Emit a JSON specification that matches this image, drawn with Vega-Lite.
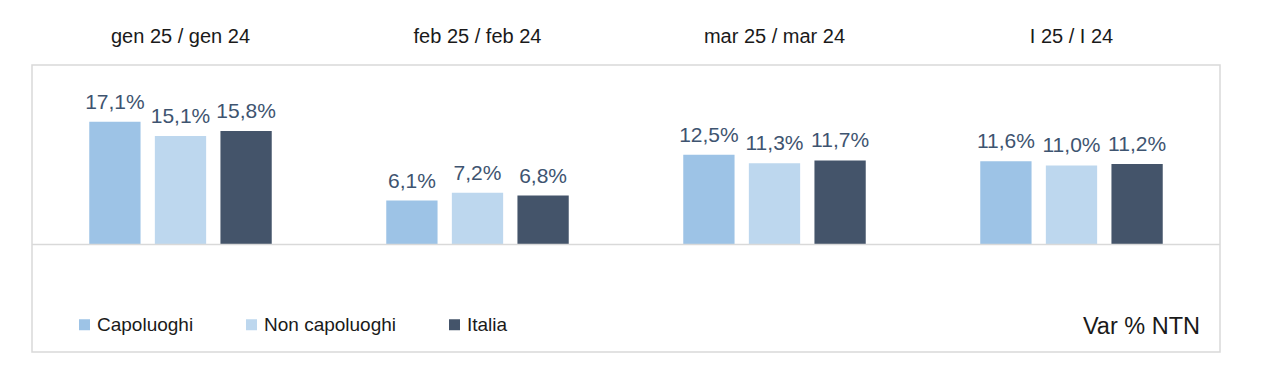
{
  "$schema": "https://vega.github.io/schema/vega-lite/v6.json",
  "width": 1188,
  "height": 287,
  "autosize": {"type": "none"},
  "padding": {"left": 32, "top": 65, "right": 60, "bottom": 21},
  "background": "white",
  "title": {
    "text": "Var % NTN",
    "orient": "bottom",
    "anchor": "end",
    "frame": "group",
    "baseline": "alphabetic",
    "offset": -18,
    "dx": -20,
    "font": "Liberation Sans",
    "fontSize": 23.5,
    "fontWeight": "normal",
    "color": "#1a1a1a"
  },
  "data": {
    "values": [
      {"periodo": "gen 25 / gen 24", "serie": "Capoluoghi", "var": 0.171},
      {"periodo": "gen 25 / gen 24", "serie": "Non capoluoghi", "var": 0.151},
      {"periodo": "gen 25 / gen 24", "serie": "Italia", "var": 0.158},
      {"periodo": "feb 25 / feb 24", "serie": "Capoluoghi", "var": 0.061},
      {"periodo": "feb 25 / feb 24", "serie": "Non capoluoghi", "var": 0.072},
      {"periodo": "feb 25 / feb 24", "serie": "Italia", "var": 0.068},
      {"periodo": "mar 25 / mar 24", "serie": "Capoluoghi", "var": 0.125},
      {"periodo": "mar 25 / mar 24", "serie": "Non capoluoghi", "var": 0.113},
      {"periodo": "mar 25 / mar 24", "serie": "Italia", "var": 0.117},
      {"periodo": "I 25 / I 24", "serie": "Capoluoghi", "var": 0.116},
      {"periodo": "I 25 / I 24", "serie": "Non capoluoghi", "var": 0.110},
      {"periodo": "I 25 / I 24", "serie": "Italia", "var": 0.112}
    ]
  },
  "layer": [
    {
      "mark": {"type": "bar"},
      "encoding": {
        "x": {
          "field": "periodo",
          "type": "nominal",
          "sort": null,
          "scale": {"paddingInner": 0, "paddingOuter": 0},
          "axis": {
            "orient": "top",
            "title": null,
            "domain": false,
            "ticks": false,
            "tickSize": 0,
            "labelAngle": 0,
            "labelFont": "Liberation Sans",
            "labelFontSize": 20,
            "labelColor": "#1a1a1a",
            "labelBaseline": "alphabetic",
            "labelPadding": 23
          }
        },
        "xOffset": {
          "field": "serie",
          "type": "nominal",
          "sort": ["Capoluoghi", "Non capoluoghi", "Italia"],
          "scale": {"paddingInner": 0.218, "paddingOuter": 0.873}
        },
        "y": {
          "field": "var",
          "type": "quantitative",
          "scale": {"domain": [-0.15, 0.25], "nice": false, "zero": false},
          "axis": null
        },
        "y2": {"datum": 0},
        "color": {
          "field": "serie",
          "type": "nominal",
          "scale": {
            "domain": ["Capoluoghi", "Non capoluoghi", "Italia"],
            "range": ["#9DC3E6", "#BDD7EE", "#44546A"]
          },
          "legend": {
            "title": null,
            "orient": "none",
            "direction": "horizontal",
            "legendX": 43,
            "legendY": 250,
            "symbolType": "square",
            "symbolSize": 121,
            "symbolStrokeWidth": 0,
            "labelFont": "Liberation Sans",
            "labelFontSize": 19,
            "labelColor": "#1a1a1a",
            "labelOffset": 3,
            "columnPadding": 48
          }
        }
      }
    },
    {
      "mark": {
        "type": "text",
        "baseline": "alphabetic",
        "dy": -13,
        "font": "Liberation Sans",
        "fontSize": 21,
        "color": "#3E5470"
      },
      "encoding": {
        "x": {"field": "periodo", "type": "nominal", "sort": null},
        "xOffset": {
          "field": "serie",
          "type": "nominal",
          "sort": ["Capoluoghi", "Non capoluoghi", "Italia"]
        },
        "y": {"field": "var", "type": "quantitative"},
        "text": {"field": "var", "type": "quantitative", "format": ".1%"}
      }
    },
    {
      "data": {"values": [{"zero": 0}]},
      "mark": {"type": "rule", "color": "#d9d9d9", "strokeWidth": 1.5},
      "encoding": {
        "y": {"field": "zero", "type": "quantitative"}
      }
    }
  ],
  "config": {
    "locale": {
      "number": {
        "decimal": ",",
        "thousands": ".",
        "grouping": [3],
        "currency": ["€", ""]
      }
    },
    "view": {"stroke": "#d9d9d9", "strokeWidth": 1.5}
  }
}
